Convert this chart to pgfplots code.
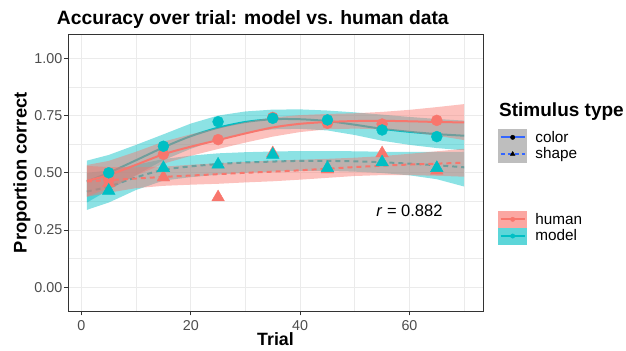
\documentclass[border=0pt]{standalone}
\usepackage{pgfplots}
\pgfplotsset{compat=1.18}
\usepackage{pgfplotstable}
\usepackage{fontspec}
\setmainfont{Liberation Sans}

\definecolor{hred}{HTML}{F8766D}
\definecolor{mteal}{HTML}{00BFC4}
\definecolor{sblue}{HTML}{3366FF}
\definecolor{gridc}{HTML}{EBEBEB}
\definecolor{tickc}{HTML}{333333}
\definecolor{labc}{HTML}{4D4D4D}
\definecolor{keygray}{RGB}{190,190,190}
\definecolor{keyred}{RGB}{251,167,162}
\definecolor{keyteal}{RGB}{92,214,217}

% smooth fits: model-color, human-color, model-shape, human-shape
\pgfplotstableread{
x  mcl   hcl   msl   hsl
1  0.462 0.465 0.418 0.462
5  0.500 0.490 0.440 0.468
10 0.555 0.535 0.480 0.475
15 0.611 0.581 0.513 0.482
20 0.660 0.614 0.528 0.488
25 0.697 0.643 0.538 0.494
30 0.722 0.672 0.545 0.500
35 0.734 0.698 0.549 0.505
40 0.734 0.714 0.552 0.511
45 0.726 0.722 0.552 0.518
50 0.710 0.726 0.550 0.525
55 0.692 0.727 0.546 0.531
60 0.679 0.725 0.540 0.536
65 0.669 0.722 0.533 0.540
70 0.662 0.720 0.524 0.544
}\curves

% observed accuracy
\pgfplotstableread{
x  mc    hc    ms    hs
5  0.500 0.470 0.422 0.455
15 0.616 0.581 0.521 0.480
25 0.723 0.645 0.536 0.393
35 0.738 0.742 0.579 0.585
45 0.731 0.716 0.521 0.515
55 0.687 0.713 0.546 0.585
65 0.658 0.729 0.521 0.510
}\points

\begin{document}
\begin{tikzpicture}
\path[use as bounding box] (0,0) rectangle (626bp,351bp);

\begin{axis}[
  at={(68bp,39.7bp)}, anchor=south west,
  scale only axis, width=415bp, height=277bp,
  xmin=-2.45, xmax=73.45, ymin=-0.105, ymax=1.105,
  xtick={0,20,40,60}, xticklabels={0,20,40,60},
  minor xtick={10,30,50,70},
  ytick={0,0.25,0.5,0.75,1}, yticklabels={0.00,0.25,0.50,0.75,1.00},
  minor ytick={0.125,0.375,0.625,0.875},
  grid=both,
  major grid style={draw=gridc, line width=1bp},
  minor grid style={draw=gridc, line width=0.6bp},
  xtick pos=lower, ytick pos=left,
  tick align=outside, major tick length=4bp, minor tick length=0bp,
  tick style={draw=tickc, line width=0.8bp},
  axis line style={draw=tickc, line width=0.9bp},
  ticklabel style={font=\fontsize{14.3bp}{17bp}\selectfont, text=labc},
  xticklabel style={anchor=base, inner sep=0pt, yshift=-15.4bp},
  yticklabel style={anchor=east, inner sep=0pt, xshift=-1.5bp},
  /pgf/number format/assume math mode=true,
  legend style={at={(axis description cs:1.0373,0.6581)}, anchor=north west,
    draw=none, fill=none, inner sep=0pt, outer sep=0pt, row sep=0pt,
    column sep=8.5bp,
    font=\fontsize{15.3bp}{18bp}\selectfont,
    nodes={inner sep=0pt}},
  legend cell align=left,
]

% model: colour ribbon + line, shape ribbon + line
\addplot[fill=mteal, fill opacity=0.45, draw=none, forget plot] coordinates {
(1,0.553)(5,0.578)(10,0.622)(15,0.668)(20,0.715)(25,0.750)(30,0.768)(35,0.776)(40,0.777)(45,0.772)(50,0.764)(55,0.754)(60,0.744)(65,0.735)(70,0.728)
(70,0.598)(65,0.608)(60,0.622)(55,0.640)(50,0.665)(45,0.685)(40,0.692)(35,0.690)(30,0.675)(25,0.645)(20,0.605)(15,0.555)(10,0.490)(5,0.425)(1,0.370)} -- cycle;
\addplot[draw=mteal, line width=2bp, smooth, forget plot] table[x=x,y=mcl]{\curves};

\addplot[fill=mteal, fill opacity=0.45, draw=none, forget plot] coordinates {
(1,0.500)(5,0.510)(10,0.535)(15,0.560)(20,0.575)(25,0.585)(30,0.590)(35,0.593)(40,0.595)(45,0.595)(50,0.594)(55,0.592)(60,0.591)(65,0.591)(70,0.592)
(70,0.440)(65,0.472)(60,0.489)(55,0.499)(50,0.505)(45,0.508)(40,0.508)(35,0.505)(30,0.500)(25,0.492)(20,0.481)(15,0.466)(10,0.425)(5,0.370)(1,0.338)} -- cycle;
\addplot[draw=mteal, line width=2bp, smooth, dash pattern=on 5bp off 4bp, forget plot] table[x=x,y=msl]{\curves};

% human
\addplot[fill=hred, fill opacity=0.45, draw=none, forget plot] coordinates {
(1,0.534)(5,0.552)(10,0.592)(15,0.636)(20,0.668)(25,0.696)(30,0.722)(35,0.742)(40,0.752)(45,0.757)(50,0.760)(55,0.766)(60,0.775)(65,0.787)(70,0.800)
(70,0.643)(65,0.662)(60,0.678)(55,0.690)(50,0.693)(45,0.690)(40,0.678)(35,0.658)(30,0.632)(25,0.604)(20,0.574)(15,0.540)(10,0.488)(5,0.433)(1,0.396)} -- cycle;
\addplot[draw=hred, line width=2bp, smooth, forget plot] table[x=x,y=hcl]{\curves};

\addplot[fill=hred, fill opacity=0.45, draw=none, forget plot] coordinates {
(1,0.530)(5,0.525)(10,0.524)(15,0.527)(20,0.535)(25,0.542)(30,0.548)(35,0.553)(40,0.557)(45,0.561)(50,0.566)(55,0.573)(60,0.583)(65,0.594)(70,0.605)
(70,0.483)(65,0.487)(60,0.490)(55,0.490)(50,0.486)(45,0.478)(40,0.470)(35,0.463)(30,0.458)(25,0.452)(20,0.448)(15,0.443)(10,0.433)(5,0.413)(1,0.395)} -- cycle;
\addplot[draw=hred, line width=2bp, smooth, dash pattern=on 5bp off 4bp, forget plot] table[x=x,y=hsl]{\curves};

% points
\addplot[only marks, mark=*, mark size=5.5bp, color=hred, forget plot] table[x=x,y=hc]{\points};
\addplot[only marks, mark=triangle*, mark size=7.3bp, color=hred, forget plot] table[x=x,y=hs]{\points};
\addplot[only marks, mark=*, mark size=5.5bp, color=mteal, forget plot] table[x=x,y=mc]{\points};
\addplot[only marks, mark=triangle*, mark size=7.3bp, color=mteal, forget plot] table[x=x,y=ms]{\points};

\node[font=\fontsize{16.5bp}{19bp}\selectfont] at (axis cs:60,0.335) {\textit{r} = 0.882};

\addlegendimage{legend image code/.code={
  \fill[keygray] (0bp,-8.15bp) rectangle (28bp,8.15bp);
  \draw[sblue, line width=2bp] (2bp,0bp) -- (26bp,0bp);
  \fill[black] (14bp,0bp) circle (2.2bp);}}
\addlegendentry{color}
\addlegendimage{legend image code/.code={
  \fill[keygray] (0bp,-8.15bp) rectangle (28bp,8.15bp);
  \draw[sblue, line width=2bp, dash pattern=on 4bp off 3bp] (2bp,0bp) -- (26bp,0bp);
  \fill[black] (14bp,2.6bp) -- (16.3bp,-1.3bp) -- (11.7bp,-1.3bp) -- cycle;}}
\addlegendentry{shape}
\end{axis}

\begin{axis}[
  at={(68bp,39.7bp)}, anchor=south west,
  scale only axis, width=415bp, height=277bp,
  xmin=-2.45, xmax=73.45, ymin=-0.105, ymax=1.105, hide axis,
  legend style={at={(axis description cs:1.0373,0.3621)}, anchor=north west,
    draw=none, fill=none, inner sep=0pt, outer sep=0pt, row sep=0pt,
    column sep=8.5bp,
    font=\fontsize{15.3bp}{18bp}\selectfont,
    nodes={inner sep=0pt}},
  legend cell align=left,
]
\addplot[draw=none, mark=none, forget plot] table[x=x,y=mc]{\points};
\addlegendimage{legend image code/.code={
  \fill[keyred] (0bp,-8.15bp) rectangle (28bp,8.15bp);
  \draw[hred, line width=2bp] (2bp,0bp) -- (26bp,0bp);
  \fill[hred] (14bp,0bp) circle (2.2bp);}}
\addlegendentry{human}
\addlegendimage{legend image code/.code={
  \fill[keyteal] (0bp,-8.15bp) rectangle (28bp,8.15bp);
  \draw[mteal, line width=2bp] (2bp,0bp) -- (26bp,0bp);
  \fill[mteal] (14bp,0bp) circle (2.2bp);}}
\addlegendentry{model}
\end{axis}

% titles
\node[anchor=base west, font=\fontsize{19.3bp}{23bp}\selectfont\bfseries, inner sep=0pt] at (56.7bp,326.5bp) {Accuracy over trial: model vs. human data};
\node[anchor=base west, font=\fontsize{19bp}{23bp}\selectfont\bfseries, inner sep=0pt] at (499bp,234.3bp) {Stimulus type};
\node[anchor=base, font=\fontsize{17.8bp}{21bp}\selectfont\bfseries, inner sep=0pt] at (275.5bp,5.6bp) {Trial};
\node[anchor=base, rotate=90, font=\fontsize{18.3bp}{21bp}\selectfont\bfseries, inner sep=0pt] at (26.5bp,178.2bp) {Proportion correct};
\end{tikzpicture}
\end{document}
